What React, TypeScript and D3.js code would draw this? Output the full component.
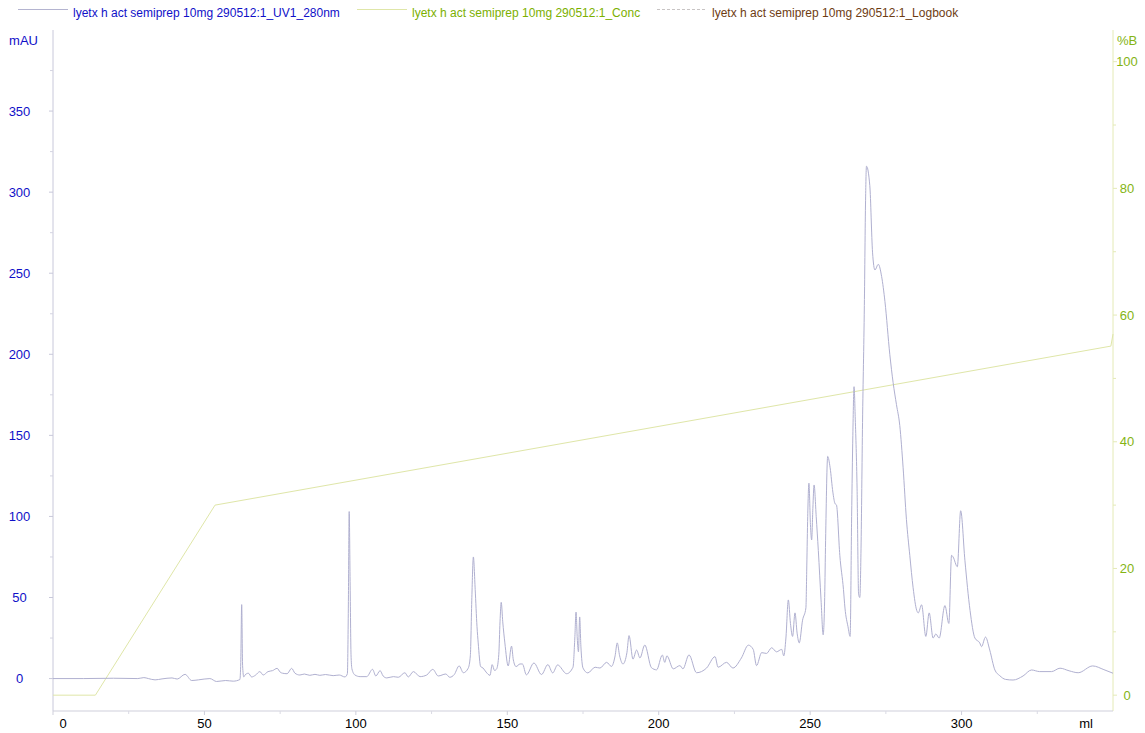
import React from "react";
import * as d3 from "d3";

// UV absorbance trace at 280 nm: [volume (ml), absorbance (mAU)]
const uvTrace: [number, number][] = [
  [0, 0], [10, 0], [20, 0.2], [28, 0], [30, 0.6], [31.5, 0], [33.7, -0.8], [36, -0.2],
  [39.3, 0.4], [41, -0.3], [43.6, 2.6], [45.8, -1.2], [48, -0.8], [51.8, 0], [54, -1.8],
  [57, -1.2], [59.5, -1.6], [61.7, -0.6], [62.0, 10], [62.3, 45.6], [62.6, 8], [63.0, 1],
  [63.4, 2.2], [64.5, 3.3], [65.6, 1], [66.8, 2], [68.3, 4.3], [69.4, 2.2], [71, 4.3],
  [72.5, 4.9], [74, 6.3], [75, 4], [75.8, 3.3], [77.3, 3], [78.8, 6.3], [79.9, 3.3],
  [81.5, 2.2], [83, 2.8], [84.8, 2], [86.5, 2.6], [88.1, 2], [90, 2.5], [92.5, 1.8],
  [94.5, 2.2], [96.4, 1], [97.2, 3], [97.5, 40], [97.8, 103], [98.1, 60], [98.4, 15],
  [98.7, 6], [99.7, 2.2], [101.4, 1.2], [103.6, 1.2], [105.5, 5.7], [106.6, 1.6],
  [108, 4.9], [109, 1.6], [110.2, 0.4], [112.4, 1.2], [114, 0.8], [116.2, 3.6], [117.3, 1],
  [119, 4.3], [121.2, 1.2], [123.4, 2.2], [125.4, 5.7], [127.2, 1.6], [129.7, 2.8],
  [131, 0.8], [132.5, 2.5], [134.1, 7.8], [135.5, 3.6], [137.1, 6.4], [137.8, 14],
  [138.3, 50], [138.8, 75], [139.4, 55], [140, 32], [140.4, 22], [141.2, 7.4], [142, 6.5],
  [143, 4], [144.3, 2], [145, 8.6], [145.8, 5], [146.5, 6], [147.2, 15], [147.6, 35],
  [148, 47], [148.5, 35], [149.2, 22], [150.3, 7.8], [151.4, 20], [152, 11.5],
  [152.9, 7.4], [154.2, 9], [155, 9], [156.3, 2.3], [158.8, 9.6], [161.3, 2.5],
  [163.4, 8.6], [165, 3.5], [166.6, 8.4], [169.6, 3], [171.7, 7], [172.3, 25],
  [172.7, 41], [173.1, 25], [173.5, 16.5], [173.9, 38], [174.3, 20], [175, 6.5],
  [176.6, 3.5], [179, 7], [180.6, 6.5], [182.8, 10], [184.4, 7.5], [185.6, 14],
  [186.3, 22], [187.1, 14], [188.2, 9], [189.5, 16], [190.2, 26.5], [191.5, 12],
  [192.7, 17.6], [193.8, 12.7], [195.4, 20.7], [197.6, 6.7], [199.3, 5.4], [201.2, 14.5],
  [202, 10], [202.7, 14], [204.8, 6], [207, 8], [208, 6], [210, 14.6], [212.5, 3.6],
  [215.8, 6.5], [218.6, 13.5], [219.6, 7], [222.4, 10], [224.5, 6.5], [227.3, 12.7],
  [229.6, 20.6], [231.2, 18], [232.3, 8], [234, 16], [235.6, 15.5], [237.3, 19],
  [238.9, 16.5], [240.6, 18], [241.3, 14], [242.0, 25], [242.8, 48.5], [243.5, 34],
  [244.2, 26], [245, 40.5], [245.7, 28], [246.4, 22], [247.5, 36], [248.6, 43.6],
  [248.9, 70], [249.2, 100], [249.6, 120.5], [250.1, 95], [250.5, 85.5], [250.9, 105],
  [251.3, 119.4], [252, 100], [252.7, 79], [253.6, 48.5], [254.3, 27], [254.8, 50],
  [255.1, 85], [255.8, 137], [256.6, 130], [257.5, 115], [258.2, 108], [258.7, 107],
  [259.8, 76], [261, 55], [261.5, 43.5], [262.5, 32], [263.2, 26], [263.7, 100],
  [264.1, 150], [264.5, 180], [264.9, 160], [265.5, 117], [266.0, 52], [266.4, 50],
  [266.8, 80], [267.3, 158], [267.9, 230], [268.3, 295], [268.6, 316], [269.7, 304],
  [270.6, 263], [271.4, 252], [272.5, 255.5], [273.6, 248], [274.7, 232.5], [276.3, 200],
  [277.4, 182.5], [278.5, 169], [279.6, 156], [280.7, 130], [281.8, 98], [282.9, 76],
  [284, 56], [285.2, 42], [285.7, 40.5], [286.8, 45.5], [288.2, 26], [289.3, 40.5],
  [290.6, 25], [291.5, 27.5], [292.6, 25], [294.5, 45], [295.8, 34], [296.7, 76],
  [297.2, 75], [298.6, 69], [299.7, 103.5], [301.1, 73], [302.8, 42], [304.4, 25],
  [306, 22], [306.6, 19.7], [307.9, 25.6], [309.3, 17.6], [311, 5.3], [312.6, 1.8],
  [314.5, -0.5], [317, -0.9], [320.3, 1.6], [323.1, 5.3], [325.8, 4.3], [329.7, 4.3],
  [332.5, 6.4], [335.5, 4.8], [338.5, 3.6], [343.3, 7.8], [347, 5.5], [350, 3.3],
];

// Gradient programme: [volume (ml), %B]
const concVolume = [0, 14, 53.5, 349.3, 350];
const concPercent = [0, 0, 30, 55.1, 57];

const volumeTicks = [0, 50, 100, 150, 200, 250, 300];
const volumeMinorTicks = [25, 75, 125, 175, 225, 275, 325];
const mauTicks = [0, 50, 100, 150, 200, 250, 300, 350];
const mauMinorTicks = [25, 75, 125, 175, 225, 275, 325, 375];
const pctTicks = [0, 20, 40, 60, 80, 100];
const pctMinorTicks = [10, 30, 50, 70, 90];

const legendItems = [
  { label: "lyetx h act semiprep 10mg 290512:1_UV1_280nm", color: "#1010c8", line: "#b4b4d0", dash: "" },
  { label: "lyetx h act semiprep 10mg 290512:1_Conc", color: "#7cb000", line: "#dfe6a8", dash: "" },
  { label: "lyetx h act semiprep 10mg 290512:1_Logbook", color: "#6e3c12", line: "#c8c4c4", dash: "3,2" },
];

const W = 1145;
const H = 733;
const left = 53;
const right = 1113;
const top = 30;
const bottom = 711;
const font = "'Liberation Sans', Arial, Helvetica, sans-serif";

export default function App() {
  const x = d3.scaleLinear().domain([0, 350]).range([left, right]);
  const yL = d3.scaleLinear().domain([-20, 400]).range([bottom, top]);
  const yR = d3.scaleLinear().domain([-2.5, 105]).range([bottom, top]);

  const uvLine = d3
    .line<[number, number]>()
    .x((d) => x(d[0]))
    .y((d) => yL(d[1]))
    .curve(d3.curveMonotoneX)(uvTrace) as string;

  const concData = concVolume.map((v, i) => [v, concPercent[i]] as [number, number]);
  const concLine = d3
    .line<[number, number]>()
    .x((d) => x(d[0]))
    .y((d) => yR(d[1]))(concData) as string;

  const legendX = [18, 357, 657];

  return (
    <div style={{ position: "absolute", left: 0, top: 0 }}>
      <svg width={W} height={H} style={{ display: "block", background: "#fff" }}>
        {/* legend */}
        {legendItems.map((it, i) => (
          <g key={i} transform={`translate(${legendX[i]},0)`}>
            <line x1={0} x2={50} y1={9.5} y2={9.5} stroke={it.line} strokeWidth={1} strokeDasharray={it.dash || undefined} />
            <text x={55} y={17} fontFamily={font} fontSize={12} fill={it.color}>
              {it.label}
            </text>
          </g>
        ))}

        {/* axis titles */}
        <text x={23.5} y={45} textAnchor="middle" fontFamily={font} fontSize={13} fill="#1010c8">
          mAU
        </text>
        <text x={1127} y={45} textAnchor="middle" fontFamily={font} fontSize={13} fill="#84b414">
          %B
        </text>

        {/* left axis */}
        <line x1={left} x2={left} y1={top} y2={bottom} stroke="#c8c8da" />
        {mauTicks.map((t) => (
          <g key={t}>
            <line x1={left - 4} x2={left} y1={yL(t)} y2={yL(t)} stroke="#c8c8da" />
            <text x={19.5} y={yL(t) + 4.5} textAnchor="middle" fontFamily={font} fontSize={13} fill="#1010c8">
              {t}
            </text>
          </g>
        ))}
        {mauMinorTicks.map((t) => (
          <line key={t} x1={left - 3} x2={left} y1={yL(t)} y2={yL(t)} stroke="#d4d4e2" />
        ))}

        {/* right axis */}
        <line x1={right} x2={right} y1={top} y2={bottom} stroke="#e4eab6" />
        {pctTicks.map((t) => (
          <g key={t}>
            <line x1={right} x2={right + 4} y1={yR(t)} y2={yR(t)} stroke="#e4eab6" />
            <text x={1127} y={yR(t) + 4.5} textAnchor="middle" fontFamily={font} fontSize={13} fill="#84b414">
              {t}
            </text>
          </g>
        ))}
        {pctMinorTicks.map((t) => (
          <line key={t} x1={right} x2={right + 3} y1={yR(t)} y2={yR(t)} stroke="#e4eab6" />
        ))}

        {/* bottom axis */}
        <line x1={left} x2={right} y1={bottom} y2={bottom} stroke="#cfcfdb" />
        {volumeTicks.map((t) => (
          <g key={t}>
            <line x1={x(t)} x2={x(t)} y1={bottom} y2={bottom + 4} stroke="#cfcfdb" />
            <text x={t === 0 ? x(t) + 10 : x(t)} y={728} textAnchor="middle" fontFamily={font} fontSize={13} fill="#000">
              {t}
            </text>
          </g>
        ))}
        {volumeMinorTicks.map((t) => (
          <line key={t} x1={x(t)} x2={x(t)} y1={bottom} y2={bottom + 3} stroke="#dadae4" />
        ))}
        <text x={1086} y={728} textAnchor="middle" fontFamily={font} fontSize={13} fill="#000">
          ml
        </text>

        {/* gradient */}
        <path d={concLine} fill="none" stroke="#dfe6a8" strokeWidth={1} />
        {/* UV trace */}
        <path d={uvLine} fill="none" stroke="#b0b0d0" strokeWidth={1} />
      </svg>
    </div>
  );
}
